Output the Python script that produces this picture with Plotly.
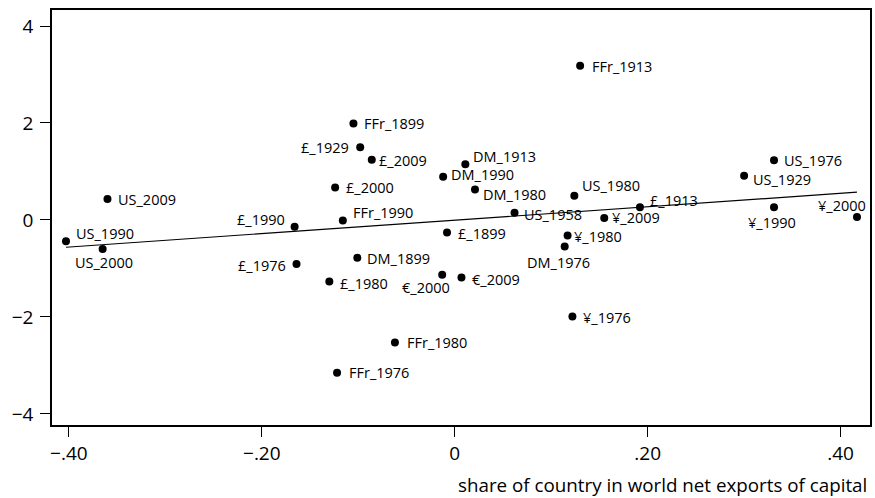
import numpy as np
import plotly.graph_objects as go

labels = ["US_1990", "US_2000", "US_2009", "£_1990", "£_2000", "FFr_1990", "FFr_1899",
          "£_1929", "£_2009", "£_1976", "DM_1899", "£_1980", "FFr_1976", "FFr_1980",
          "€_2000", "€_2009", "DM_1976", "¥_1976", "FFr_1913", "DM_1913", "DM_1990",
          "DM_1980", "US_1958", "US_1980", "£_1913", "¥_2009", "£_1899", "¥_1980",
          "US_1976", "US_1929", "¥_1990", "¥_2000"]
share_x = [-0.403, -0.365, -0.360, -0.166, -0.124, -0.116, -0.105,
           -0.098, -0.086, -0.164, -0.101, -0.130, -0.122, -0.062,
           -0.013, 0.007, 0.114, 0.122, 0.130, 0.011, -0.012,
           0.021, 0.062, 0.124, 0.192, 0.155, -0.008, 0.117,
           0.331, 0.300, 0.331, 0.417]
value_y = [-0.44, -0.60, 0.43, -0.14, 0.67, -0.01, 1.99,
           1.50, 1.24, -0.91, -0.78, -1.27, -3.15, -2.53,
           -1.13, -1.19, -0.55, -1.99, 3.18, 1.15, 0.89,
           0.63, 0.15, 0.50, 0.26, 0.04, -0.26, -0.32,
           1.23, 0.91, 0.26, 0.06]

x_tickvals = [-0.4, -0.2, 0, 0.2, 0.4]
x_ticktext = ["\u2212.40", "\u2212.20", "0", ".20", ".40"]
y_tickvals = [-4, -2, 0, 2, 4]
y_ticktext = ["\u22124", "\u22122", "0", "2", "4"]
x_title = "share of country in world net exports of capital"

# label placement (anchor, xshift px, yshift px)
place = {
    "US_1990": ("left", 9, 8), "US_2000": ("center", 1, -13), "US_2009": ("left", 10, 0),
    "£_1990": ("right", -9, 7), "£_2000": ("left", 10, 0), "FFr_1990": ("left", 9, 8),
    "FFr_1899": ("left", 10, 0), "£_1929": ("right", -10, 0), "£_2009": ("left", 6, -1),
    "£_1976": ("right", -10, -1), "DM_1899": ("left", 9, -1), "£_1980": ("left", 10, -2),
    "FFr_1976": ("left", 11, 0), "FFr_1980": ("left", 11, 0), "€_2000": ("right", 9, -13),
    "€_2009": ("left", 10, -2), "DM_1976": ("center", -6, -16), "¥_1976": ("left", 10, -1),
    "FFr_1913": ("left", 11, -1), "DM_1913": ("left", 7, 8), "DM_1990": ("left", 7, 2),
    "DM_1980": ("left", 7, -5), "US_1958": ("left", 8, -2), "US_1980": ("left", 7, 10),
    "£_1913": ("left", 9, 7), "¥_2009": ("left", 7, 0), "£_1899": ("left", 10, -1),
    "¥_1980": ("left", 5, -1), "US_1976": ("left", 9, 0), "US_1929": ("left", 8, -4),
    "¥_1990": ("center", -2, -15), "¥_2000": ("right", 10, 12),
}

xs = np.array(share_x)
ys = np.array(value_y)
slope, intercept = np.polyfit(xs, ys, 1)
line_x = np.array([xs.min(), xs.max()])
line_y = intercept + slope * line_x

fig = go.Figure()
fig.add_trace(go.Scatter(x=line_x, y=line_y, mode="lines",
                         line=dict(color="black", width=1.2), hoverinfo="skip"))
fig.add_trace(go.Scatter(x=share_x, y=value_y, mode="markers",
                         marker=dict(color="black", size=8), text=labels))

for lab, xv, yv in zip(labels, share_x, value_y):
    anc, dx, dy = place[lab]
    fig.add_annotation(x=xv, y=yv, xref="x", yref="y", text=lab, showarrow=False,
                       xanchor=anc, yanchor="middle", xshift=dx, yshift=dy,
                       font=dict(family="Open Sans", size=14.5, color="#000"),
                       borderpad=0)

fig.add_annotation(x=1, y=0, xref="paper", yref="paper", text=x_title, showarrow=False,
                   xanchor="right", yanchor="middle", xshift=-1, yshift=-60,
                   font=dict(family="Open Sans", size=18.8, color="#000"))

axis_common = dict(showline=True, linecolor="black", linewidth=1.5, mirror=True,
                   ticks="outside", ticklen=10, tickwidth=1.2, tickcolor="black",
                   showgrid=False, zeroline=False,
                   tickfont=dict(family="Open Sans", size=19, color="#000"))
fig.update_xaxes(range=[-0.4175, 0.4305], tickvals=x_tickvals, ticktext=x_ticktext,
                 **axis_common)
fig.update_yaxes(range=[-4.23, 4.33], tickvals=y_tickvals, ticktext=y_ticktext,
                 ticklabelstandoff=3, **axis_common)
fig.update_layout(width=875, height=498, margin=dict(l=52, r=3, t=10, b=73),
                  paper_bgcolor="white", plot_bgcolor="white", showlegend=False)

fig.write_html("out.html")
